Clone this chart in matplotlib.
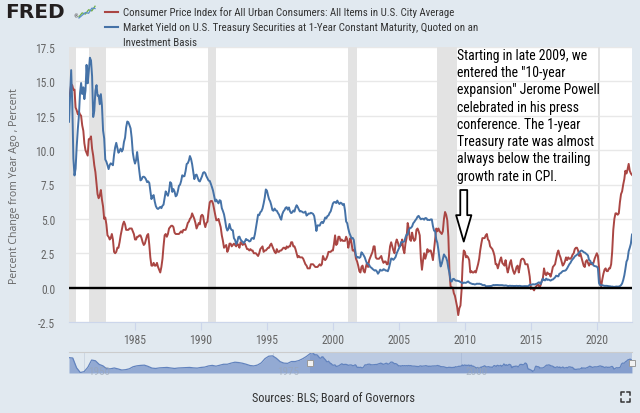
import numpy as np
import pandas as pd
import matplotlib
matplotlib.use("Agg")
import matplotlib.pyplot as plt
from matplotlib import font_manager
from matplotlib.lines import Line2D

W, H = 640, 414

# CPI, percent change from year ago, monthly 1980-01 .. 2022-09
cpi = [
    13.9, 14.2, 14.8, 14.7, 14.4, 14.4, 13.1, 12.9, 12.6, 12.8, 12.6, 12.5,  # 1980
    11.8, 11.4, 10.5, 10.0, 9.8, 9.6, 10.8, 10.8, 11.0, 10.1, 9.6, 8.9,  # 1981
    8.4, 7.6, 6.8, 6.5, 6.7, 7.1, 6.4, 5.9, 5.0, 5.1, 4.6, 3.8,  # 1982
    3.7, 3.5, 3.6, 3.9, 3.5, 2.6, 2.5, 2.6, 2.9, 2.9, 3.3, 3.8,  # 1983
    4.2, 4.6, 4.8, 4.6, 4.2, 4.2, 4.2, 4.3, 4.3, 4.3, 4.1, 3.9,  # 1984
    3.5, 3.5, 3.7, 3.7, 3.8, 3.8, 3.6, 3.3, 3.1, 3.2, 3.5, 3.8,  # 1985
    3.9, 3.1, 2.2, 1.6, 1.6, 1.8, 1.6, 1.6, 1.8, 1.5, 1.3, 1.1,  # 1986
    1.5, 2.1, 3.0, 3.8, 3.9, 3.7, 3.9, 4.3, 4.4, 4.5, 4.5, 4.4,  # 1987
    4.0, 3.9, 3.9, 3.9, 3.9, 4.0, 4.1, 4.0, 4.2, 4.2, 4.2, 4.4,  # 1988
    4.7, 4.8, 5.0, 5.1, 5.4, 5.2, 5.0, 4.7, 4.3, 4.5, 4.7, 4.6,  # 1989
    5.2, 5.3, 5.2, 4.7, 4.4, 4.7, 4.8, 5.6, 6.2, 6.3, 6.3, 6.1,  # 1990
    5.7, 5.3, 4.9, 4.9, 5.0, 4.7, 4.4, 3.8, 3.4, 2.9, 3.0, 3.1,  # 1991
    2.6, 2.8, 3.2, 3.2, 3.0, 3.1, 3.2, 3.1, 3.0, 3.2, 3.1, 2.9,  # 1992
    3.3, 3.2, 3.1, 3.2, 3.2, 3.0, 2.8, 2.8, 2.7, 2.8, 2.7, 2.7,  # 1993
    2.5, 2.5, 2.5, 2.4, 2.3, 2.5, 2.8, 2.9, 3.0, 2.6, 2.7, 2.7,  # 1994
    2.8, 2.9, 2.9, 3.1, 3.2, 3.0, 2.8, 2.6, 2.5, 2.8, 2.6, 2.6,  # 1995
    2.7, 2.7, 2.8, 2.9, 2.9, 2.8, 3.0, 2.9, 3.0, 3.0, 3.3, 3.3,  # 1996
    3.0, 3.0, 2.8, 2.5, 2.2, 2.3, 2.2, 2.2, 2.2, 2.1, 1.9, 1.7,  # 1997
    1.6, 1.4, 1.4, 1.4, 1.7, 1.7, 1.7, 1.6, 1.5, 1.5, 1.5, 1.6,  # 1998
    1.7, 1.6, 1.7, 2.3, 2.1, 2.0, 2.1, 2.3, 2.6, 2.6, 2.6, 2.7,  # 1999
    2.7, 3.2, 3.8, 3.1, 3.2, 3.7, 3.7, 3.4, 3.5, 3.4, 3.4, 3.4,  # 2000
    3.7, 3.5, 2.9, 3.3, 3.6, 3.2, 2.7, 2.7, 2.6, 2.1, 1.9, 1.6,  # 2001
    1.2, 1.1, 1.5, 1.6, 1.2, 1.1, 1.5, 1.8, 1.5, 2.0, 2.2, 2.4,  # 2002
    2.6, 3.0, 3.0, 2.2, 2.1, 2.1, 2.1, 2.2, 2.3, 2.0, 1.8, 1.9,  # 2003
    1.9, 1.7, 1.7, 2.3, 3.0, 3.3, 3.0, 2.7, 2.5, 3.2, 3.5, 3.3,  # 2004
    3.0, 3.0, 3.1, 3.5, 2.8, 2.5, 3.2, 3.6, 4.7, 4.3, 3.5, 3.4,  # 2005
    4.0, 3.6, 3.4, 3.5, 4.2, 4.3, 4.1, 3.8, 2.1, 1.3, 2.0, 2.5,  # 2006
    2.1, 2.4, 2.8, 2.6, 2.7, 2.7, 2.4, 2.0, 2.8, 3.5, 4.3, 4.1,  # 2007
    4.3, 4.1, 4.0, 3.9, 4.1, 5.0, 5.5, 5.3, 4.9, 3.7, 1.1, 0.1,  # 2008
    0.0, 0.0, -0.4, -0.6, -1.0, -1.4, -2.0, -1.5, -1.3, -0.2, 1.8, 2.7,  # 2009
    2.6, 2.2, 2.3, 2.2, 2.0, 1.1, 1.2, 1.1, 1.1, 1.2, 1.1, 1.4,  # 2010
    1.7, 2.1, 2.7, 3.2, 3.6, 3.6, 3.6, 3.8, 3.9, 3.5, 3.4, 3.0,  # 2011
    2.9, 2.8, 2.6, 2.3, 1.7, 1.7, 1.4, 1.7, 2.0, 2.2, 1.8, 1.7,  # 2012
    1.6, 2.0, 1.5, 1.1, 1.4, 1.8, 2.0, 1.5, 1.2, 1.0, 1.2, 1.5,  # 2013
    1.6, 1.1, 1.5, 2.0, 2.1, 2.1, 2.0, 1.7, 1.7, 1.7, 1.3, 0.8,  # 2014
    -0.1, 0.0, -0.1, -0.2, 0.0, 0.1, 0.2, 0.2, 0.0, 0.2, 0.5, 0.7,  # 2015
    1.4, 1.0, 0.9, 1.1, 1.0, 1.0, 0.8, 1.1, 1.5, 1.6, 1.7, 2.1,  # 2016
    2.5, 2.7, 2.4, 2.2, 1.9, 1.6, 1.7, 1.9, 2.2, 2.0, 2.2, 2.1,  # 2017
    2.1, 2.2, 2.4, 2.5, 2.8, 2.9, 2.9, 2.7, 2.3, 2.5, 2.2, 1.9,  # 2018
    1.6, 1.5, 1.9, 2.0, 1.8, 1.6, 1.8, 1.7, 1.7, 1.8, 2.1, 2.3,  # 2019
    2.5, 2.3, 1.5, 0.3, 0.1, 0.6, 1.0, 1.3, 1.4, 1.2, 1.2, 1.4,  # 2020
    1.4, 1.7, 2.6, 4.2, 5.0, 5.4, 5.4, 5.3, 5.4, 6.2, 6.8, 7.0,  # 2021
    7.5, 7.9, 8.5, 8.3, 8.6, 9.0, 8.5, 8.3, 8.2,  # 2022
]

# 1-year Treasury constant maturity yield, monthly 1980-01 .. 2022-09
gs1 = [
    12.06, 13.92, 15.82, 13.30, 9.39, 8.16, 8.65, 10.24, 11.52, 12.49, 14.15, 14.88,
    14.08, 14.57, 13.71, 14.32, 16.20, 14.86, 15.72, 16.72, 16.52, 15.38, 12.41, 12.85,
    14.32, 14.73, 13.95, 13.98, 13.34, 14.07, 13.24, 11.43, 10.85, 9.32, 9.16, 8.91,
    8.62, 8.92, 9.04, 8.98, 8.90, 9.66, 10.20, 10.53, 10.16, 9.81, 9.94, 10.11,
    9.90, 10.04, 10.59, 10.90, 11.66, 12.08, 12.03, 11.82, 11.58, 10.90, 9.82, 9.33,
    9.02, 9.29, 9.86, 9.14, 8.46, 7.80, 7.86, 8.05, 8.07, 8.01, 7.88, 7.67,
    7.73, 7.61, 7.03, 6.44, 6.65, 6.73, 6.27, 5.93, 5.77, 5.72, 5.80, 5.87,
    5.78, 5.96, 6.03, 6.50, 7.00, 6.80, 6.68, 7.03, 7.67, 7.59, 6.96, 7.17,
    6.99, 6.64, 6.71, 7.01, 7.40, 7.49, 7.75, 8.17, 8.09, 8.11, 8.48, 8.99,
    9.05, 9.25, 9.57, 9.36, 8.98, 8.44, 7.89, 8.18, 8.22, 7.99, 7.77, 7.72,
    7.92, 8.11, 8.35, 8.40, 8.32, 8.10, 7.94, 7.78, 7.76, 7.55, 7.31, 7.05,
    6.64, 6.27, 6.40, 6.24, 6.13, 6.36, 6.31, 5.78, 5.57, 5.33, 4.89, 4.38,
    4.15, 4.29, 4.63, 4.30, 4.19, 4.17, 3.60, 3.47, 3.18, 3.30, 3.68, 3.71,
    3.50, 3.39, 3.33, 3.24, 3.36, 3.54, 3.47, 3.44, 3.36, 3.39, 3.58, 3.61,
    3.54, 3.87, 4.32, 4.82, 5.31, 5.27, 5.48, 5.56, 5.76, 6.11, 6.54, 7.14,
    7.05, 6.70, 6.43, 6.27, 6.00, 5.64, 5.59, 5.75, 5.62, 5.59, 5.43, 5.31,
    5.09, 4.94, 5.34, 5.54, 5.64, 5.81, 5.85, 5.67, 5.83, 5.55, 5.42, 5.47,
    5.61, 5.53, 5.80, 5.99, 5.87, 5.69, 5.54, 5.56, 5.52, 5.46, 5.46, 5.53,
    5.24, 5.31, 5.39, 5.38, 5.44, 5.41, 5.36, 5.21, 4.71, 4.12, 4.53, 4.52,
    4.51, 4.70, 4.78, 4.69, 4.85, 5.10, 5.03, 5.20, 5.25, 5.43, 5.55, 5.84,
    6.12, 6.22, 6.22, 6.15, 6.33, 6.17, 6.08, 6.18, 6.13, 6.01, 6.09, 5.60,
    4.81, 4.68, 4.30, 3.98, 3.78, 3.58, 3.62, 3.47, 2.82, 2.33, 2.18, 2.22,
    2.16, 2.23, 2.57, 2.48, 2.35, 2.20, 1.96, 1.76, 1.72, 1.65, 1.49, 1.45,
    1.36, 1.30, 1.24, 1.27, 1.18, 1.01, 1.12, 1.31, 1.24, 1.25, 1.34, 1.31,
    1.24, 1.24, 1.19, 1.43, 1.78, 2.12, 2.10, 2.02, 2.12, 2.23, 2.50, 2.67,
    2.86, 3.03, 3.30, 3.32, 3.33, 3.36, 3.64, 3.87, 3.85, 4.18, 4.33, 4.35,
    4.45, 4.68, 4.77, 4.90, 5.00, 5.16, 5.22, 5.08, 4.97, 5.01, 5.01, 4.94,
    5.06, 5.05, 4.92, 4.93, 4.91, 4.96, 4.96, 4.47, 4.14, 4.10, 3.50, 3.26,
    2.71, 2.05, 1.54, 1.74, 2.06, 2.42, 2.28, 2.18, 1.91, 1.42, 1.07, 0.49,
    0.44, 0.62, 0.64, 0.55, 0.50, 0.51, 0.48, 0.46, 0.40, 0.37, 0.31, 0.37,
    0.35, 0.35, 0.40, 0.45, 0.37, 0.32, 0.29, 0.26, 0.26, 0.23, 0.25, 0.29,
    0.27, 0.29, 0.26, 0.25, 0.19, 0.18, 0.19, 0.11, 0.10, 0.11, 0.11, 0.12,
    0.12, 0.16, 0.19, 0.18, 0.19, 0.19, 0.19, 0.18, 0.18, 0.18, 0.18, 0.16,
    0.15, 0.16, 0.15, 0.12, 0.12, 0.14, 0.12, 0.13, 0.12, 0.12, 0.12, 0.13,
    0.12, 0.12, 0.13, 0.11, 0.10, 0.10, 0.11, 0.11, 0.11, 0.10, 0.13, 0.21,
    0.20, 0.22, 0.25, 0.23, 0.24, 0.28, 0.30, 0.38, 0.37, 0.26, 0.48, 0.65,
    0.54, 0.53, 0.66, 0.56, 0.59, 0.55, 0.51, 0.57, 0.59, 0.66, 0.74, 0.87,
    0.83, 0.82, 1.01, 1.04, 1.12, 1.20, 1.22, 1.23, 1.28, 1.40, 1.56, 1.70,
    1.80, 1.96, 2.06, 2.15, 2.27, 2.33, 2.39, 2.45, 2.56, 2.65, 2.70, 2.66,
    2.58, 2.55, 2.49, 2.42, 2.34, 2.00, 1.96, 1.77, 1.80, 1.61, 1.57, 1.55,
    1.53, 1.41, 0.33, 0.18, 0.16, 0.18, 0.15, 0.13, 0.13, 0.13, 0.12, 0.10,
    0.10, 0.07, 0.08, 0.06, 0.05, 0.07, 0.08, 0.07, 0.08, 0.11, 0.18, 0.30,
    0.55, 0.90, 1.34, 1.89, 2.06, 2.65, 2.90, 3.20, 3.86,
]

# navigator: CPI % change before 1980, every six months from 1948-01
nav_early = [
    10.2, 9.9, 1.3, -2.9, -2.1, 1.7, 8.1, 7.5, 4.3, 3.0, 0.4, 0.4,
    1.1, 0.3, -0.7, -0.4, 0.4, 2.2, 3.0, 3.4, 3.6, 2.5, 1.0, 0.7,
    1.2, 1.4, 1.6, 1.1, 0.7, 1.1, 1.3, 1.4, 1.6, 1.2, 1.0, 1.6,
    1.9, 2.9, 3.4, 2.7, 3.6, 4.4, 4.4, 5.4, 6.2, 5.9, 5.3, 4.4,
    3.3, 2.9, 3.7, 5.6, 9.4, 11.5, 11.8, 9.7, 6.7, 5.4, 5.2, 6.8,
    6.8, 7.7, 9.3, 11.3,
]

rec_start = ["1980-01-01", "1981-07-01", "1990-07-01", "2001-03-01", "2007-12-01", "2020-02-01"]
rec_end = ["1980-07-01", "1982-11-01", "1991-03-01", "2001-11-01", "2009-06-01", "2020-04-01"]

year_ticks = [1985, 1990, 1995, 2000, 2005, 2010, 2015, 2020]
nav_labels = [1950, 1975, 2000]

cpi_name = "Consumer Price Index for All Urban Consumers: All Items in U.S. City Average"
gs1_name = ["Market Yield on U.S. Treasury Securities at 1-Year Constant Maturity, Quoted on an",
            "Investment Basis"]
note = ('Starting in late 2009, we\nentered the "10-year\nexpansion" Jerome Powell\n'
        'celebrated in his press\nconference. The 1-year\nTreasury rate was almost\n'
        'always below the trailing\ngrowth rate in CPI.')

dates = pd.date_range("1980-01-01", periods=len(cpi), freq="MS")
nav_dates = pd.date_range("1948-01-01", periods=len(nav_early), freq="6MS").append(dates)
nav_vals = nav_early + cpi

RED = "#aa4643"
BLUE = "#4572a7"
BG = "#e1e9f0"

installed = {f.name for f in font_manager.fontManager.ttflist}


def pick(cands):
    for c in cands:
        if c in installed:
            return c
    return "DejaVu Sans"


NARROW = pick(["Roboto Condensed", "Open Sans Condensed", "Archivo Narrow", "Asap Condensed",
               "Barlow Semi Condensed", "Liberation Sans"])
NOTE_FONT = pick(["Roboto Condensed", "Carlito", "Asap Condensed", "Liberation Sans"])


def fx(px):
    return px / W


def fy(py):
    return 1 - py / H


fig = plt.figure(figsize=(W / 100, H / 100), dpi=100, facecolor=BG)

# main chart
ax = fig.add_axes([fx(69), fy(323), fx(632 - 69), (323 - 48) / H])
ax.set_facecolor("white")
for s, e in zip(rec_start, rec_end):
    ax.axvspan(pd.Timestamp(s), pd.Timestamp(e), color="#e3e3e3", lw=0, zorder=1)
ax.plot(dates, cpi, color=RED, lw=1.4, zorder=3)
ax.plot(dates, gs1, color=BLUE, lw=1.4, zorder=3)
ax.axhline(0, color="black", lw=1.7, zorder=4)

ax.set_xlim(dates[0], dates[-1])
ax.set_ylim(-2.5, 17.5)
yt = np.arange(-2.5, 17.6, 2.5)
ax.set_yticks(yt)
ax.set_yticklabels([f"{v:.1f}" for v in yt], fontfamily=NARROW)
ax.set_xticks([pd.Timestamp(f"{y}-01-01") for y in year_ticks])
ax.set_xticklabels([str(y) for y in year_ticks], fontfamily=NARROW)
ax.tick_params(axis="y", length=0, pad=10, labelsize=8.3, labelcolor="#666666")
ax.tick_params(axis="x", length=6, pad=2, color="#ccd6eb", labelsize=8.5, labelcolor="#666666")
ax.grid(axis="y", color="#e8e8e8", lw=1)
ax.set_axisbelow(True)
for side in ["top", "right", "left"]:
    ax.spines[side].set_visible(False)
ax.spines["bottom"].set_color("#ccd6eb")

fig.text(fx(15), fy(186), "Percent Change from Year Ago , Percent", rotation=90,
         ha="center", va="center", fontsize=7.6, color="#666666", family="Open Sans")

# note and arrow
ax.text(pd.Timestamp("2009-05-15"), 17.45, note, ha="left", va="top", fontsize=9.9,
        family=NOTE_FONT, color="black", linespacing=1.3, zorder=5)
ax.annotate("", xy=(pd.Timestamp("2009-12-01"), 3.35), xytext=(pd.Timestamp("2009-12-01"), 7.1),
            arrowprops=dict(arrowstyle="simple,head_length=1.9,head_width=1.1,tail_width=0.5",
                            fc="white", ec="black", lw=1.3, mutation_scale=10,
                            shrinkA=0, shrinkB=0), zorder=5)

# header
fig.text(fx(5), fy(13), "FRED", fontsize=14.5, fontweight="heavy", color="#231f20",
         ha="left", va="center", family="DejaVu Sans")
fig.text(fx(73), fy(17), "®", fontsize=3.5, color="#231f20", ha="left", va="center")
icon = fig.add_axes([fx(78), fy(21), fx(18), 15 / H])
icon.set_facecolor("#dfe7ef")
icon.plot([0, 1, 2, 3, 4, 5], [0.5, 1.5, 1.2, 2.3, 2.0, 3.2], color="#6fae45", lw=0.9)
icon.plot([0, 1, 2, 3, 4, 5], [0.2, 0.9, 1.6, 1.4, 2.7, 2.6], color="#5b8fc9", lw=0.9)
icon.set_xlim(-0.3, 5.3)
icon.set_ylim(-0.3, 3.5)
icon.axis("off")

fig.add_artist(Line2D([fx(105), fx(118)], [fy(13), fy(13)], color=RED, lw=1.5))
fig.add_artist(Line2D([fx(105), fx(118)], [fy(28), fy(28)], color=BLUE, lw=1.5))
for i, s in enumerate([cpi_name] + gs1_name):
    fig.text(fx(123), fy(13 + 15 * i), s, fontsize=7.8, color="#333333", family=NARROW, va="center")

# navigator
nav = fig.add_axes([fx(69), fy(374), fx(632 - 69), 21 / H])
nav.set_facecolor(BG)
nav.fill_between(nav_dates, nav_vals, -3.3, color="#93aad3", lw=0)
nav.plot(nav_dates, nav_vals, color="#6283be", lw=0.9)
nav.set_xlim(nav_dates[0], nav_dates[-1])
nav.set_ylim(-3.3, 15.2)
nav.axvspan(dates[0], dates[-1], color="#6685c2", alpha=0.3, lw=0)
for y in nav_labels:
    t = pd.Timestamp(f"{y}-01-01")
    nav.axvline(t, color="#c9d3e0", lw=0.6, zorder=0)
    nav.annotate(str(y), (t, 0), xytext=(3, -1), textcoords="offset points", fontsize=8,
                 color="#9aa6b5", family=NARROW, va="center", ha="left", alpha=0.7)
for side in nav.spines:
    nav.spines[side].set_visible(False)
nav.spines["top"].set_visible(True)
nav.spines["top"].set_color("#cccccc")
nav.set_xticks([])
nav.set_yticks([])
for t in [dates[0], dates[-1]]:
    nav.plot([t], [0.5], marker="s", ms=5, mfc="#f2f2f2", mec="#999999", mew=0.7,
             transform=nav.get_xaxis_transform(), clip_on=False, zorder=5)

fig.text(fx(333), fy(398), "Sources: BLS; Board of Governors", ha="center", va="center",
         fontsize=8.8, color="#333333", family=NARROW)

# fullscreen icon
for cx, cy, dx, dy in [(621, 393, 1, 1), (630, 393, -1, 1), (621, 403, 1, -1), (630, 403, -1, -1)]:
    fig.add_artist(Line2D([fx(cx), fx(cx), fx(cx + 3 * dx)], [fy(cy + 3 * dy), fy(cy), fy(cy)],
                          color="#333333", lw=1.1))

fig.savefig("out.png", dpi=100, facecolor=BG)
